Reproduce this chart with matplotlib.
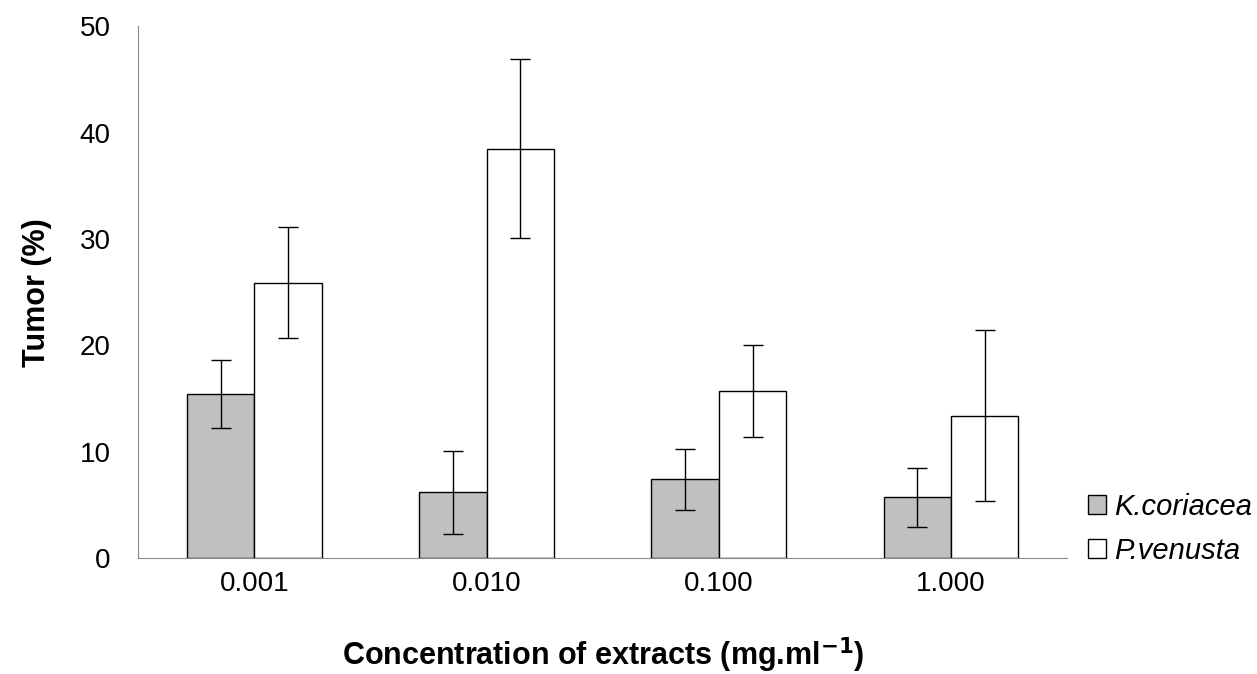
import numpy as np
import matplotlib.pyplot as plt

plt.rcParams['font.family'] = ['Liberation Sans', 'DejaVu Sans']

concentrations = ['0.001', '0.010', '0.100', '1.000']
k_coriacea = [15.4, 6.2, 7.4, 5.7]
k_coriacea_err = [3.2, 3.9, 2.9, 2.8]
p_venusta = [25.9, 38.5, 15.7, 13.4]
p_venusta_err = [5.2, 8.4, 4.3, 8.0]

fig = plt.figure(figsize=(12.57, 6.74), dpi=100)
ax = fig.add_axes([0.110, 0.172, 0.739, 0.789])

x = np.arange(len(concentrations))
w = 0.29
ekw = dict(ecolor='black', elinewidth=1, capsize=7, capthick=1)
ax.bar(x - w / 2, k_coriacea, w, yerr=k_coriacea_err, color='#c0c0c0',
       edgecolor='black', linewidth=1, label='K.coriacea', error_kw=ekw)
ax.bar(x + w / 2, p_venusta, w, yerr=p_venusta_err, color='white',
       edgecolor='black', linewidth=1, label='P.venusta', error_kw=ekw)

ax.set_xlim(-0.5, 3.5)
ax.set_ylim(0, 50)
ax.set_yticks(range(0, 51, 10))
ax.set_xticks(x)
ax.set_xticklabels(concentrations)
ax.tick_params(length=0, labelsize=20)
ax.tick_params(axis='x', pad=9)
ax.tick_params(axis='y', pad=20)
for s in ['top', 'right']:
    ax.spines[s].set_visible(False)
for s in ['left', 'bottom']:
    ax.spines[s].set_color('#888888')

ax.set_ylabel('Tumor (%)', fontsize=22, fontweight='bold', labelpad=20)
ax.set_xlabel('Concentration of extracts (mg.ml$^{\\mathbf{-1}}$)', fontsize=22,
              fontweight='bold', labelpad=28)

leg = ax.legend(loc='center left', bbox_to_anchor=(1.01, 0.055), frameon=False,
                prop={'size': 21, 'style': 'italic'}, handlelength=0.6,
                handleheight=0.6, handletextpad=0.3, labelspacing=0.55,
                borderaxespad=0)

fig.savefig('out.png', dpi=100)
